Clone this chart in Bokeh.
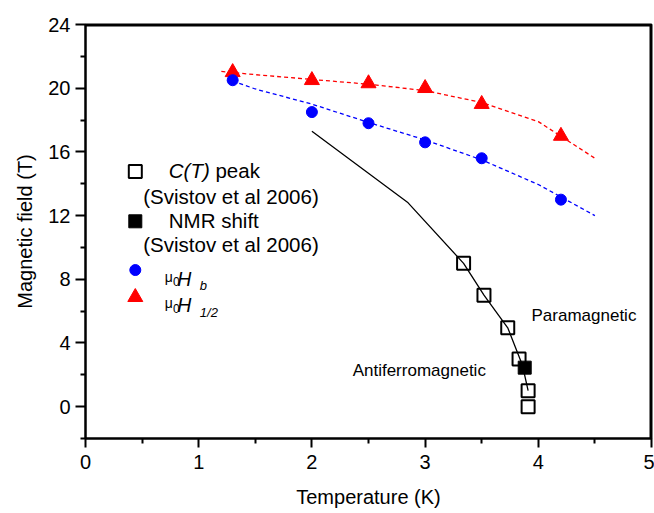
from bokeh.plotting import figure
from bokeh.models import Range1d, FixedTicker, Label
from bokeh.embed import file_html
from bokeh.resources import INLINE

# ---- data ----
t_half = [1.3, 2.0, 2.5, 3.0, 3.5, 4.2]
h_half = [21.0, 20.5, 20.3, 20.0, 19.0, 17.0]
t_b = [1.3, 2.0, 2.5, 3.0, 3.5, 4.2]
h_b = [20.5, 18.5, 17.8, 16.6, 15.6, 13.0]
fit_half_t = [1.2, 1.5, 2.0, 2.5, 3.0, 3.5, 4.0, 4.5]
fit_half_h = [21.05, 20.85, 20.55, 20.25, 19.85, 19.1, 17.9, 15.6]
fit_b_t = [1.3, 1.5, 2.0, 2.5, 3.0, 3.5, 4.0, 4.5]
fit_b_h = [20.45, 19.95, 19.0, 17.85, 16.75, 15.5, 13.95, 12.0]
ct_t = [3.34, 3.52, 3.73, 3.83, 3.91, 3.91]
ct_h = [9.0, 7.0, 4.95, 3.0, 1.0, 0.0]
nmr_t = [3.88]
nmr_h = [2.45]
line_t = [2.0, 2.85, 3.34, 3.52, 3.73, 3.86, 3.91]
line_h = [17.3, 12.8, 9.0, 7.0, 4.95, 2.6, 1.0]
x_ticks = [0, 1, 2, 3, 4, 5]
y_ticks = [0, 4, 8, 12, 16, 20, 24]
x_lim = [0, 5]
y_lim = [-2, 24]

FONT = "Liberation Sans"

p = figure(width=654, height=513, output_backend="svg", toolbar_location=None,
           x_range=Range1d(*x_lim), y_range=Range1d(*y_lim),
           min_border_left=85, min_border_right=3, min_border_top=24, min_border_bottom=75)
p.outline_line_color = "black"
p.outline_line_width = 2
p.xgrid.visible = False
p.ygrid.visible = False
p.background_fill_color = "white"
p.border_fill_color = "white"

p.xaxis.ticker = FixedTicker(ticks=x_ticks, minor_ticks=[0.5, 1.5, 2.5, 3.5, 4.5])
p.yaxis.ticker = FixedTicker(ticks=y_ticks, minor_ticks=[-2, 2, 6, 10, 14, 18, 22])
for ax in (p.xaxis[0], p.yaxis[0]):
    ax.axis_line_width = 2
    ax.axis_line_color = "black"
    ax.major_tick_line_width = 2
    ax.minor_tick_line_width = 2
    ax.major_tick_in = 0
    ax.minor_tick_out = 5
    ax.minor_tick_in = 0
    ax.major_label_text_font = FONT
    ax.major_label_text_font_size = "20px"
    ax.major_label_text_color = "black"
    ax.axis_label_text_font = FONT
    ax.axis_label_text_font_size = "20px"
    ax.axis_label_text_font_style = "normal"
    ax.axis_label_text_color = "black"
p.xaxis.major_tick_out = 9
p.yaxis.major_tick_out = 10
p.xaxis.axis_label = "Temperature (K)"
p.yaxis.axis_label = "Magnetic field (T)"
p.xaxis.major_label_standoff = 7
p.yaxis.major_label_standoff = 5
p.xaxis.axis_label_standoff = 14
p.yaxis.axis_label_standoff = 9

# frame edges at top and right, drawn from the range limits
p.line(x_lim, [y_lim[1], y_lim[1]], line_color="black", line_width=4)
p.line([x_lim[1], x_lim[1]], y_lim, line_color="black", line_width=4)

# fits and guide line
p.line(fit_half_t, fit_half_h, line_color="red", line_dash="4 3", line_width=1.3)
p.line(fit_b_t, fit_b_h, line_color="blue", line_dash="4 3", line_width=1.3)
p.line(line_t, line_h, line_color="black", line_width=1.3)

p.scatter(t_half, h_half, marker="triangle", size=15, fill_color="red", line_color="red")
p.scatter(t_b, h_b, marker="circle", size=11, fill_color="blue", line_color="blue")
p.scatter(ct_t, ct_h, marker="square", size=13, fill_color=None, line_color="black", line_width=2)
p.scatter(nmr_t, nmr_h, marker="square", size=13, fill_color="black", line_color="black")

def lab(x, y, t, size="20.5px", style="normal", base="middle"):
    p.add_layout(Label(x=x, y=y, text=t, text_font=FONT, text_font_size=size,
                       text_font_style=style, text_baseline=base, text_color="black"))

# region annotations
lab(3.94, 5.7, "Paramagnetic", size="17px")
lab(2.36, 2.27, "Antiferromagnetic", size="17px")

# legend (hand built for italic / subscripts)
leg_x = [0.44, 0.44, 0.44, 0.44]
leg_y = [14.77, 11.64, 8.58, 6.875]
p.scatter(leg_x[:1], leg_y[:1], marker="square", size=13, fill_color=None, line_color="black", line_width=2)
p.scatter(leg_x[1:2], leg_y[1:2], marker="square", size=13, fill_color="black", line_color="black")
p.scatter(leg_x[2:3], leg_y[2:3], marker="circle", size=11, fill_color="blue", line_color="blue")
p.scatter(leg_x[3:], leg_y[3:], marker="triangle", size=15, fill_color="red", line_color="red")

lab(0.736, 14.83, "C(T)", style="italic")
lab(1.148, 14.83, "peak")
lab(0.51, 13.19, "(Svistov et al 2006)")
lab(0.736, 11.68, "NMR shift")
lab(0.51, 10.16, "(Svistov et al 2006)")
# mu0 H_b
lab(0.70, 8.14, "\u03bc", size="14px", base="alphabetic")
lab(0.772, 7.83, "0", size="12px", base="alphabetic")
lab(0.81, 8.04, "H", size="19.5px", style="italic", base="alphabetic")
lab(1.01, 7.58, "b", size="13px", style="italic", base="alphabetic")
# mu0 H_1/2
lab(0.70, 6.5, "\u03bc", size="14px", base="alphabetic")
lab(0.772, 6.19, "0", size="12px", base="alphabetic")
lab(0.81, 6.375, "H", size="19.5px", style="italic", base="alphabetic")
lab(1.01, 5.94, "1/2", size="13px", style="italic", base="alphabetic")

open("out.html", "w").write(file_html(p, INLINE))
